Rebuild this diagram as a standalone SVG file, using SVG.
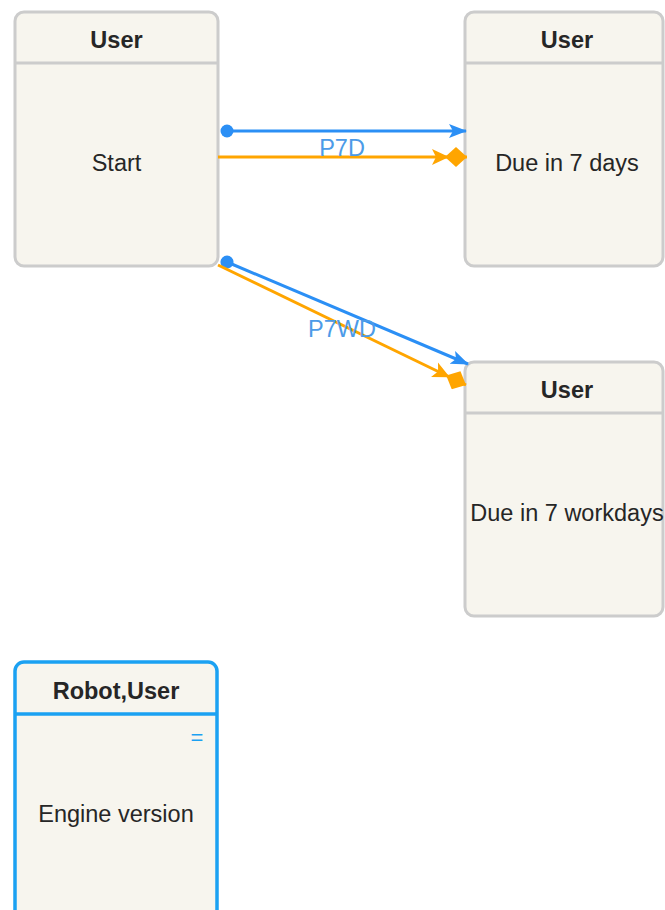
<svg xmlns="http://www.w3.org/2000/svg" width="665" height="910" viewBox="0 0 665 910">
<style>
.box{fill:#f7f5ee;stroke:#cccccc;stroke-width:3}
.sel{fill:#f7f5ee;stroke:#1ba1f2;stroke-width:3.5}
.hl{stroke:#cccccc;stroke-width:3}
.hls{stroke:#1ba1f2;stroke-width:3.5}
.t{font-family:"Liberation Sans",Arial,sans-serif;font-size:23.5px;fill:#262626;text-anchor:middle}
.h{font-weight:bold}
.lab{font-family:"Liberation Sans",Arial,sans-serif;font-size:23.5px;fill:#4c9be8;text-anchor:middle}
.blue{stroke:#2b8ff5;stroke-width:3;fill:none}
.orange{stroke:#ffa500;stroke-width:3;fill:none}
</style>
<defs>
<marker id="ab" markerWidth="18" markerHeight="16" refX="17" refY="8" orient="auto" markerUnits="userSpaceOnUse">
<path d="M0,1 L18,8 L0,15 L4,8 Z" fill="#2b8ff5"/>
</marker>
<marker id="db" markerWidth="14" markerHeight="14" refX="7" refY="7" orient="auto" markerUnits="userSpaceOnUse">
<circle cx="7" cy="7" r="6.5" fill="#2b8ff5"/>
</marker>
<marker id="ao" markerWidth="36" markerHeight="20" refX="35" refY="10" orient="auto" markerUnits="userSpaceOnUse">
<path d="M0,2 L17,10 L0,18 L4,10 Z" fill="#ffa500"/>
<path d="M13,10 L24,0 L35,10 L24,20 Z" fill="#ffa500"/>
</marker>
</defs>
<g id="node-start">
<rect class="box" x="15" y="12" width="203" height="254" rx="9"/>
<line class="hl" x1="15" y1="63" x2="218" y2="63"/>
<text class="t h" x="116.5" y="48">User</text>
<text class="t" x="116.5" y="171">Start</text>
</g>
<g id="node-7days">
<rect class="box" x="465" y="12" width="198" height="254" rx="9"/>
<line class="hl" x1="465" y1="63" x2="663" y2="63"/>
<text class="t h" x="567" y="48">User</text>
<text class="t" x="567" y="171">Due in 7 days</text>
</g>
<g id="node-7workdays">
<rect class="box" x="465" y="362" width="198" height="254" rx="9"/>
<line class="hl" x1="465" y1="413" x2="663" y2="413"/>
<text class="t h" x="567" y="398">User</text>
<text class="t" x="567" y="521">Due in 7 workdays</text>
</g>
<g id="node-engine">
<rect class="sel" x="15" y="662" width="202" height="262" rx="9"/>
<line class="hls" x1="15" y1="714" x2="217" y2="714"/>
<text class="t h" x="116" y="699">Robot,User</text>
<text style="font-family:'Liberation Sans',Arial,sans-serif;font-size:22px;fill:#1ba1f2;text-anchor:middle" x="197" y="745">=</text>
<text class="t" x="116" y="822">Engine version</text>
</g>
<g id="connectors">
<line class="blue" x1="227" y1="131" x2="466" y2="131" marker-start="url(#db)" marker-end="url(#ab)"/>
<line class="orange" x1="218" y1="157" x2="467" y2="157" marker-end="url(#ao)"/>
<line class="blue" x1="227" y1="262" x2="468" y2="364" marker-start="url(#db)" marker-end="url(#ab)"/>
<line class="orange" x1="218" y1="265" x2="466" y2="385" marker-end="url(#ao)"/>
<text class="lab" x="342" y="156">P7D</text>
<text class="lab" x="342" y="337">P7WD</text>
</g>
</svg>
